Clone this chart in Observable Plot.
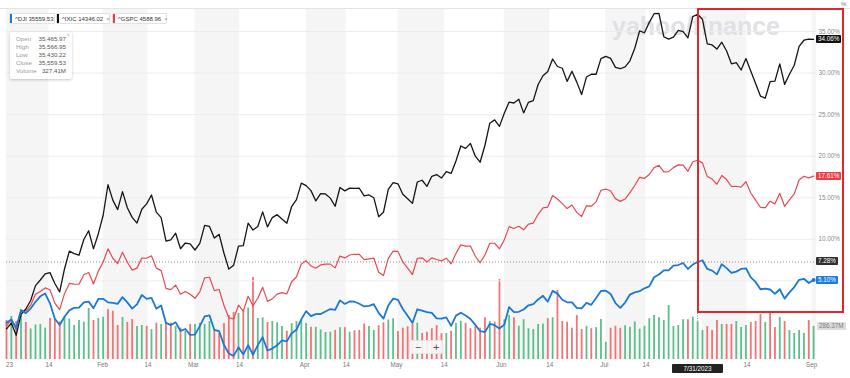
<!DOCTYPE html>
<html><head><meta charset="utf-8">
<script src="https://cdn.jsdelivr.net/npm/d3@7"></script>
<script src="https://cdn.jsdelivr.net/npm/@observablehq/plot@0.6"></script>
<style>
body{margin:0;background:#fff;font-family:"Liberation Sans",Arial,sans-serif;}
#wrap{position:relative;width:850px;height:378px;overflow:hidden;background:#fff;}
#wrap > *{position:absolute;left:0;top:0;}
.chip{height:11px;border:1px solid #e2e2e2;background:#fff;font-size:6px;line-height:10px;color:#333;padding-left:5px;box-sizing:border-box;white-space:nowrap;border-radius:1px;}
.chip i{position:absolute;left:0;top:0;bottom:0;width:2px;}
.chip span{color:#999;margin-left:3px;}
.tip{background:#fff;box-shadow:0 1px 3px rgba(0,0,0,0.22);border-radius:2px;font-size:6.2px;box-sizing:border-box;padding:3px 6px 0 6px;}
.tip div{position:relative;height:8px;line-height:8px;}
.tip b{font-weight:normal;color:#9a9a9a;}
.tip em{font-style:normal;color:#555;position:absolute;right:0;top:0;}
.lab{font-size:6.3px;line-height:8px;height:8px;padding:0 2px;color:#fff;white-space:nowrap;border-radius:1px;}
</style></head><body><div id="wrap"></div>
<script>
// % change since 12/30/2022 close, one value per trading day (Jan 3 .. Sep 1, 2023)
const dji = [-0.03,0.37,-0.66,1.46,1.12,1.68,2.49,3.15,3.48,2.30,0.45,-0.31,0.69,1.46,1.77,1.80,2.42,2.51,1.72,2.83,
 2.85,2.42,2.35,2.24,3.05,2.42,1.67,2.18,3.31,2.84,2.96,1.66,2.05,-0.05,-0.31,0.02,-1.00,-0.78,-1.48,
 -1.46,-0.43,0.74,0.86,-0.88,-1.05,-2.69,-3.73,-4.01,-2.99,-3.84,-2.72,-3.88,-2.72,-1.77,-3.37,-3.14,-2.74,-2.16,-2.27,-1.30,-0.87,0.38,
 1.37,0.77,1.01,1.02,1.33,1.62,1.51,2.66,2.23,2.53,2.50,2.26,1.93,2.00,2.20,1.16,0.47,2.05,2.87,
 2.73,1.62,0.81,-0.06,1.59,1.42,1.25,1.16,0.49,0.46,0.61,-0.41,0.83,1.17,0.84,0.42,-0.28,-1.05,-1.16,-0.16,-0.32,-0.72,
 -0.26,1.86,1.25,1.29,1.56,2.07,2.20,2.77,3.21,2.51,3.80,3.47,2.74,2.43,2.41,1.75,1.71,2.35,2.13,2.94,3.80,
 3.83,3.44,2.34,1.77,2.40,3.36,3.62,3.76,4.11,4.34,5.44,5.77,6.27,6.27,6.83,6.91,7.16,6.44,6.97,7.28,
 7.49,6.44,6.24,5.79,7.02,6.54,5.96,6.12,6.44,6.52,5.43,4.88,4.00,4.08,3.97,3.44,4.00,2.87,3.62,4.26,5.14,5.26,4.75,
 5.10];
const ixic = [-0.76,-0.07,-1.54,0.98,1.62,2.64,4.44,5.11,5.85,6.00,4.69,3.69,6.44,8.58,8.29,8.09,9.99,11.04,8.86,10.68,
 12.90,16.57,14.72,13.58,15.74,13.80,12.64,11.96,13.62,14.27,15.33,13.27,12.62,9.80,9.94,10.74,8.87,9.56,9.45,
 8.72,9.52,11.68,11.55,10.16,10.60,8.33,6.42,6.90,9.19,9.25,11.95,11.12,11.55,13.31,11.50,12.62,12.97,12.44,11.94,13.95,14.78,16.77,
 16.46,15.86,14.62,15.49,15.46,14.96,13.98,16.24,15.83,16.16,16.12,16.15,15.22,15.34,15.01,12.73,13.26,16.01,16.82,
 16.68,15.42,14.89,14.33,16.90,17.11,16.37,17.58,17.79,17.37,18.14,17.93,19.43,21.23,20.94,21.54,20.00,19.28,21.32,23.97,24.37,23.59,
 25.17,26.51,26.40,26.85,25.21,26.48,26.68,28.62,29.68,30.19,31.69,30.79,30.58,29.00,30.23,28.91,27.41,29.52,29.86,29.86,31.74,
 32.01,31.77,30.69,30.52,30.75,31.47,32.99,35.08,34.85,36.10,37.14,37.18,34.37,34.08,34.32,35.14,34.98,34.24,36.79,37.07,
 36.47,33.51,33.38,32.89,33.71,32.66,31.11,31.26,30.37,31.74,30.24,28.74,27.23,26.98,28.96,29.04,31.10,28.64,29.85,30.94,33.22,33.95,34.09,
 34.06];
const gspc = [-0.40,0.35,-0.82,1.45,1.37,2.08,3.39,3.74,4.16,3.94,2.33,1.55,3.47,4.70,4.62,4.60,5.75,6.02,4.64,6.18,
 7.28,8.86,7.73,7.07,8.45,7.25,6.30,6.54,7.76,7.73,8.02,6.54,6.24,4.11,3.95,4.50,3.40,3.72,3.40,
 2.91,3.69,5.37,5.44,3.83,3.97,2.05,0.58,0.42,2.08,1.37,3.15,2.01,2.92,4.25,2.54,2.85,3.42,3.59,3.43,4.90,5.50,7.03,
 7.42,6.80,6.53,6.92,7.02,7.02,6.57,7.99,7.77,8.12,8.21,8.20,7.56,7.66,7.75,6.05,5.64,7.71,8.59,
 8.55,7.29,6.54,5.77,7.73,7.78,7.28,7.77,7.58,7.41,7.73,7.04,8.31,9.34,9.18,9.20,7.97,7.18,8.12,9.53,9.53,8.86,
 9.94,11.53,11.31,11.57,11.15,11.83,11.96,13.01,13.79,13.88,15.27,14.85,14.30,13.70,14.13,13.25,12.74,14.03,13.99,14.51,15.91,
 16.05,15.82,14.90,14.57,14.85,15.62,16.48,17.46,17.34,17.80,18.63,18.91,18.11,18.15,18.63,18.96,18.94,18.18,19.34,19.52,
 19.20,17.55,17.25,16.63,17.68,17.19,16.36,16.39,16.27,16.93,15.58,14.71,13.83,13.81,14.59,14.27,15.54,13.98,14.75,15.47,17.14,17.59,17.40,
 17.61];
// ^DJI volume, millions
const volume = [338,373,330,434,321,265,300,304,272,356,352,326,365,350,295,338,324,443,338,356,
 367,434,419,295,365,321,347,286,295,286,260,315,304,321,315,286,272,243,304,
 304,313,304,330,260,226,313,382,408,399,425,447,712,356,362,321,330,319,286,246,311,330,338,
 313,280,280,256,234,237,252,276,276,237,249,252,308,286,252,293,319,343,354,
 243,272,284,304,315,226,236,267,295,223,226,246,313,332,315,267,286,272,362,330,324,694,
 345,382,362,289,345,267,260,304,308,354,363,599,330,323,271,382,260,288,267,276,347,
 149,271,288,271,293,280,326,263,288,354,382,363,338,469,286,295,345,345,367,327.41,
 252,286,252,338,304,304,304,330,278,295,321,330,391,321,399,278,365,330,252,226,252,226,338,
 286.37];
const tickPos = [0.6,8.8,19.9,29.3,38.7,48.2,61.7,70.3,80.7,90.6,102.4,112.4,123.7,132.3,153.2,166.6];
const tickText = ["23","14","Feb","14","Mar","14","Apr","14","May","14","Jun","14","Jul","14","14","Sep"];
const bandStart = [0,20,39,62,81,103,124,144,166.7];
const bandEnd = [8.8,29.3,48.2,70.3,90.6,112.4,132.3,153.2,167.6];
const gridTicks = [5,10,15,20,25,30,35];
const axisTicks = [10,15,20,25,30,35];
const hoverIndex = 143; // 7/31/2023

const BLUE = "#1a78d6", BLACK = "#151515", REDLINE = "#e84852";
const GREEN_BAR = "#5bbf8b", RED_BAR = "#f27373";

const rows = dji.map((d, i) => ({i, dji: d, ixic: ixic[i], gspc: gspc[i], vol: volume[i],
  up: i === 0 ? d >= 0 : d >= dji[i - 1]}));
const ticks = tickPos.map((p, k) => ({p, t: tickText[k]}));
const bands = bandStart.map((s, k) => ({s, e: bandEnd[k]}));
const last = rows[rows.length - 1];
const XD = [0, 167.6], XR = [6, 816];
const FONT = "Liberation Sans, Arial, sans-serif";

const wrap = document.getElementById("wrap");

const basePlot = Plot.plot({
  width: 850, height: 378, marginTop: 8, marginBottom: 18, marginLeft: 0, marginRight: 0,
  x: {domain: XD, range: XR, axis: null},
  y: {domain: [0, 286.37], range: [359, 326], axis: null},
  style: {background: "transparent", fontFamily: FONT},
  marks: [
    Plot.rect(bands, {x1: "s", x2: "e", fill: "#f5f5f5"}),
    Plot.frame({anchor: "top", stroke: "#e4e4e4"}),
    Plot.ruleX([hoverIndex], {stroke: "#9a9a9a", strokeDasharray: "1,1.5"}),
    Plot.ruleX(rows, {x: "i", y1: 0, y2: "vol", stroke: d => d.up ? GREEN_BAR : RED_BAR, strokeWidth: 1.8}),
    Plot.text(ticks, {x: "p", text: "t", frameAnchor: "bottom", dy: 6, fill: "#7a7a7a", fontSize: 6.3})
  ]
});
wrap.appendChild(basePlot);

// watermark
const wm = document.createElementNS("http://www.w3.org/2000/svg", "svg");
wm.setAttribute("width", 850); wm.setAttribute("height", 378);
wm.innerHTML = `<text x="612" y="35" font-family="${FONT}" font-weight="bold" font-size="25" fill="#dfe1e6" textLength="168" lengthAdjust="spacingAndGlyphs">yahoo/finance</text>`;
wrap.appendChild(wm);

const linesPlot = Plot.plot({
  width: 850, height: 378, marginTop: 8, marginBottom: 18, marginLeft: 0, marginRight: 0,
  x: {domain: XD, range: XR, axis: null},
  y: {domain: [0, 35], range: [322, 31], axis: null},
  style: {background: "transparent", fontFamily: FONT},
  marks: [
    Plot.ruleY(gridTicks, {x1: XD[0], x2: XD[1], stroke: "#ececec"}),
    Plot.text(axisTicks, {x: XD[1], y: d => d, text: d => d.toFixed(2) + "%", textAnchor: "start", dx: 2, fill: "#8a8a8a", fontSize: 6.3}),
    Plot.ruleY([dji[hoverIndex]], {x1: XD[0], x2: XD[1], stroke: "#8c8c8c", strokeDasharray: "1,2"}),
    Plot.line(rows, {x: "i", y: "gspc", stroke: REDLINE, strokeWidth: 1.2}),
    Plot.line(rows, {x: "i", y: "ixic", stroke: BLACK, strokeWidth: 1.3}),
    Plot.line(rows, {x: "i", y: "dji", stroke: BLUE, strokeWidth: 1.8}),
    Plot.dot([last], {x: "i", y: "dji", r: 2, fill: BLUE})
  ]
});
wrap.appendChild(linesPlot);

function sc(plot, name, dom, rng) {
  const s = plot.scale && plot.scale(name);
  if (s && s.apply) return v => s.apply(v);
  return d3.scaleLinear(dom, rng);
}
const yPct = sc(linesPlot, "y", [0, 35], [322, 31]);
const yVol = sc(basePlot, "y", [0, 286.37], [359, 326]);
const xPos = sc(linesPlot, "x", XD, XR);

function el(html, style) {
  const d = document.createElement("div");
  d.innerHTML = html;
  Object.assign(d.style, style);
  wrap.appendChild(d);
  return d;
}
function label(text, y, bg, color, left) {
  const d = el(text, {left: left + "px", top: (y - 4) + "px", background: bg, color});
  d.className = "lab";
}
label(last.ixic.toFixed(2) + "%", yPct(last.ixic), "#111", "#fff", 816);
label(last.gspc.toFixed(2) + "%", yPct(last.gspc), "#f03c44", "#fff", 816);
label(dji[hoverIndex].toFixed(2) + "%", yPct(dji[hoverIndex]), "#2f2f2f", "#fff", 816);
label(last.dji.toFixed(2) + "%", yPct(last.dji), "#1a7be0", "#fff", 816);
label(last.vol.toFixed(2) + "M", yVol(last.vol) - 0.5, "#dcdcdc", "#7c7c7c", 817);

// "%" unit at top right
el("%", {left: "841px", top: "1px", fontSize: "6px", color: "#777"});

// hover date box on the x axis
el("7/31/2023", {left: (xPos(hoverIndex) - 25) + "px", top: "364px", width: "51px", height: "9px",
  background: "#222", color: "#fff", fontSize: "6.3px", lineHeight: "9px", textAlign: "center", borderRadius: "1px"});

// legend chips
const c1 = el('<i style="background:#1a78d6"></i>^DJI 35559.53', {left: "9px", top: "13px", width: "46px"}); c1.className = "chip";
const c2 = el('<i style="background:#111"></i>^IXIC 14346.02<span>×</span>', {left: "56px", top: "13px", width: "54px"}); c2.className = "chip";
const c3 = el('<i style="background:#ef3b45"></i>^GSPC 4588.96<span>×</span>', {left: "112px", top: "13px", width: "55px"}); c3.className = "chip";

// hover tooltip
const tipRows = [["Open","35,465.97"],["High","35,566.95"],["Low","35,430.22"],["Close","35,559.53"],["Volume","327.41M"]];
const tip = el(tipRows.map(r => `<div><b>${r[0]}</b><em>${r[1]}</em></div>`).join("") +
  '<span style="position:absolute;right:2px;top:0px;color:#bbb;font-size:6px">×</span>',
  {left: "10px", top: "32px", width: "62px", height: "47px"});
tip.className = "tip";

// zoom controls
el('<span style="position:absolute;left:5px;top:0">−</span><span style="position:absolute;left:23px;top:0">+</span>',
  {left: "409px", top: "340px", width: "34px", height: "14px", background: "rgba(248,248,248,0.9)",
   border: "1px solid #e6e6e6", boxSizing: "border-box", fontSize: "11px", lineHeight: "12px", color: "#555", borderRadius: "2px"});

// red annotation box
el("", {left: "697px", top: "8px", width: "147px", height: "305px", border: "2px solid #e3262b", boxSizing: "border-box"});
</script></body></html>
